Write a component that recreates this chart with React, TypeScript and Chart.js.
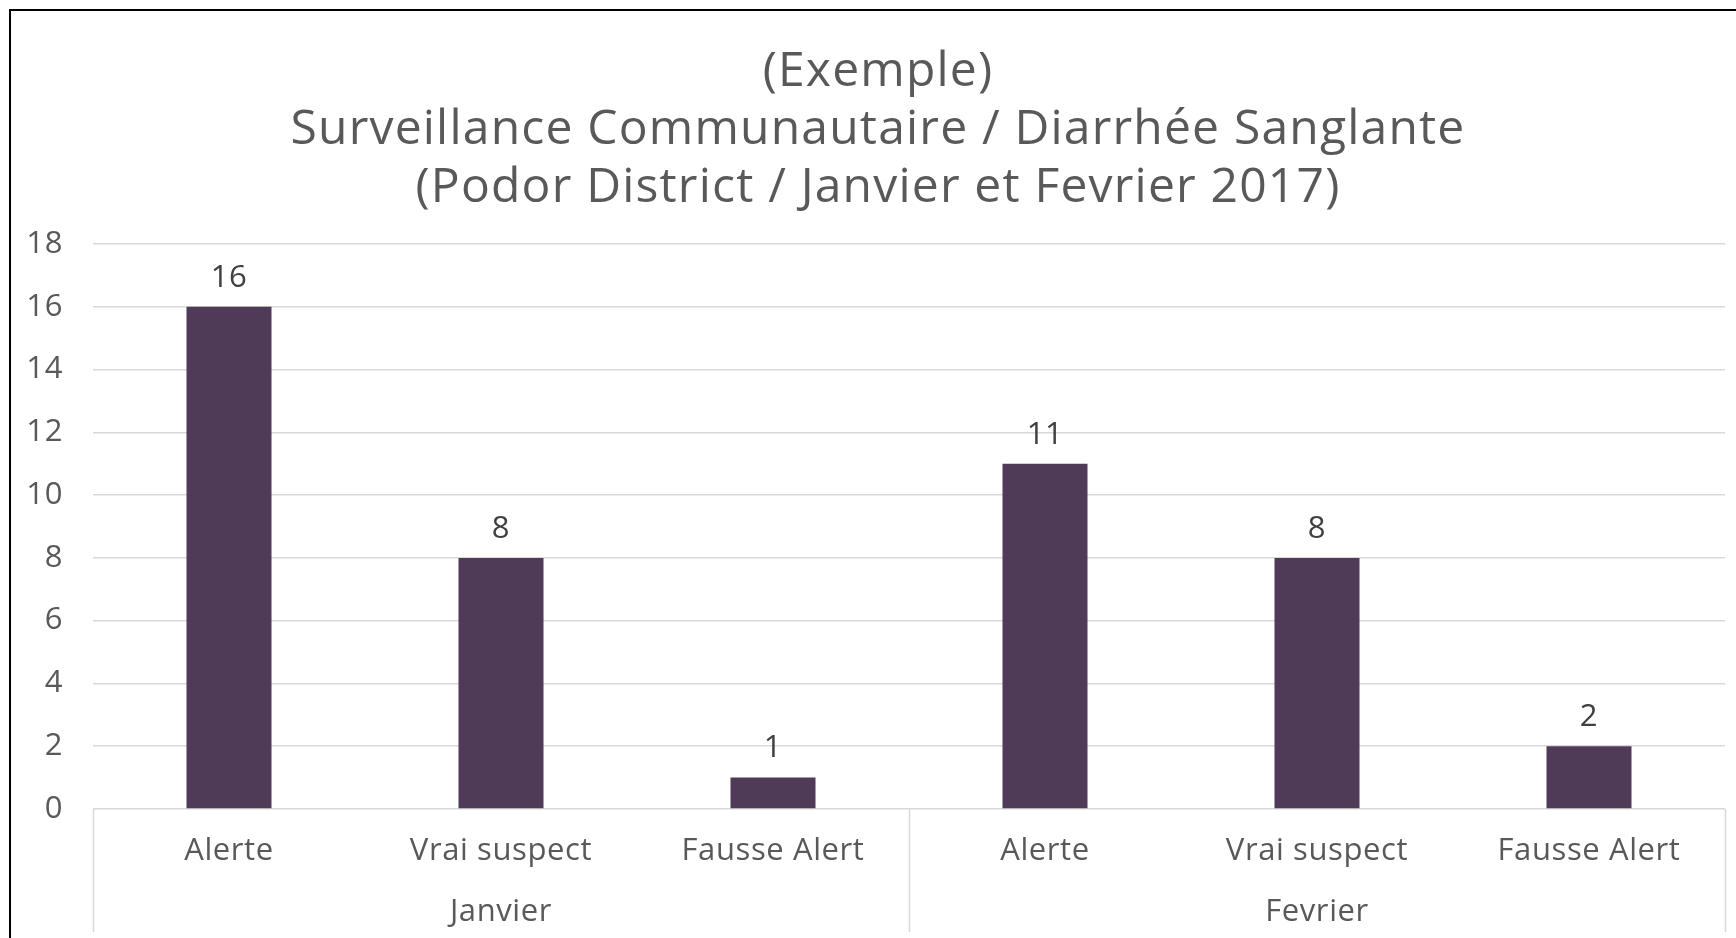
import React, { useEffect, useRef } from "react";
import { Chart, registerables } from "chart.js";

Chart.register(...registerables);

const titleLines = [
  "(Exemple)",
  "Surveillance Communautaire / Diarrhée Sanglante",
  "(Podor District / Janvier et Fevrier 2017)",
];
const categories = ["Alerte", "Vrai suspect", "Fausse Alert", "Alerte", "Vrai suspect", "Fausse Alert"];
const groups = ["Janvier", "Fevrier"];
const groupSizes = [3, 3];
const values = [16, 8, 1, 11, 8, 2];
const yMin = 0;
const yMax = 18;
const yStep = 2;

const FONT = "'Open Sans', 'Noto Sans', sans-serif";
const TEXT = "#595959";
const GRID = "#D9D9D9";
const BAR = "#4F3A57";
const LABEL_SIZE = 31;

const decorPlugin = {
  id: "decor",
  beforeDraw(chart: any) {
    const ctx = chart.ctx;
    ctx.save();
    ctx.fillStyle = "#ffffff";
    ctx.fillRect(0, 0, chart.width, chart.height);
    ctx.restore();
    (ctx as any).letterSpacing = "0.6px";
  },
  afterDraw(chart: any) {
    const ctx = chart.ctx;
    const xs = chart.scales.x;
    const area = chart.chartArea;
    ctx.save();
    // frame
    ctx.fillStyle = "#000000";
    ctx.fillRect(9, 9, 2, chart.height);
    ctx.fillRect(9, 9, chart.width, 2);
    // title
    ctx.fillStyle = TEXT;
    ctx.font = `48px ${FONT}`;
    (ctx as any).letterSpacing = "1.2px";
    ctx.textAlign = "center";
    ctx.textBaseline = "middle";
    const titleX = 878;
    titleLines.forEach((t, i) => ctx.fillText(t, titleX, 72 + i * 58));
    (ctx as any).letterSpacing = "0.6px";
    // group separators and labels
    const n = categories.length;
    const catW = (area.right - area.left) / n;
    ctx.strokeStyle = GRID;
    ctx.lineWidth = 1.5;
    let start = 0;
    const bounds: number[] = [0];
    groupSizes.forEach((s) => {
      start += s;
      bounds.push(start);
    });
    bounds.forEach((b) => {
      const x = xs.getPixelForTick(Math.min(b, n - 1)) + (b === n ? catW / 2 : -catW / 2);
      ctx.beginPath();
      ctx.moveTo(Math.round(x) + 0.5, area.bottom);
      ctx.lineTo(Math.round(x) + 0.5, 932);
      ctx.stroke();
    });
    ctx.font = `${LABEL_SIZE}px ${FONT}`;
    ctx.fillStyle = TEXT;
    groups.forEach((g, gi) => {
      const a = bounds[gi];
      const b = bounds[gi + 1];
      const x = (xs.getPixelForTick(a) + xs.getPixelForTick(b - 1)) / 2;
      ctx.fillText(g, x, 912);
    });
    ctx.restore();
  },
  afterDatasetsDraw(chart: any) {
    const ctx = chart.ctx;
    const meta = chart.getDatasetMeta(0);
    ctx.save();
    ctx.fillStyle = "#404040";
    ctx.font = `${LABEL_SIZE}px ${FONT}`;
    ctx.textAlign = "center";
    ctx.textBaseline = "middle";
    meta.data.forEach((el: any, i: number) => {
      ctx.fillText(String(values[i]), el.x, el.y - 29);
    });
    ctx.restore();
  },
};

export default function App() {
  const ref = useRef<HTMLCanvasElement>(null);
  useEffect(() => {
    if (!ref.current) return;
    const chart = new Chart(ref.current, {
      type: "bar",
      data: {
        labels: categories,
        datasets: [
          {
            data: values,
            backgroundColor: BAR,
            borderWidth: 0,
            barPercentage: 0.3125,
            categoryPercentage: 1,
          },
        ],
      },
      options: {
        animation: false,
        responsive: false,
        devicePixelRatio: 1,
        layout: { padding: { top: 244, right: 11, left: 0, bottom: 0 } },
        plugins: {
          legend: { display: false },
          title: { display: false },
          tooltip: { enabled: false },
        },
        scales: {
          x: {
            grid: { display: false },
            border: { display: false },
            ticks: {
              color: TEXT,
              font: { family: FONT, size: LABEL_SIZE },
              padding: 16,
              maxRotation: 0,
              autoSkip: false,
            },
            afterFit(scale: any) {
              scale.height = 129;
            },
          },
          y: {
            min: yMin,
            max: yMax,
            grid: { color: GRID, lineWidth: 1.5, drawTicks: false },
            border: { display: false },
            ticks: {
              stepSize: yStep,
              color: TEXT,
              font: { family: FONT, size: LABEL_SIZE },
              padding: 30,
            },
            afterFit(scale: any) {
              scale.width = 93;
            },
          },
        },
      },
      plugins: [decorPlugin],
    });
    return () => chart.destroy();
  }, []);
  return (
    <div style={{ position: "absolute", left: 0, top: 0, width: 1736, height: 938, overflow: "hidden", background: "#fff" }}>
      <canvas ref={ref} width={1736} height={938} style={{ display: "block" }} />
    </div>
  );
}
